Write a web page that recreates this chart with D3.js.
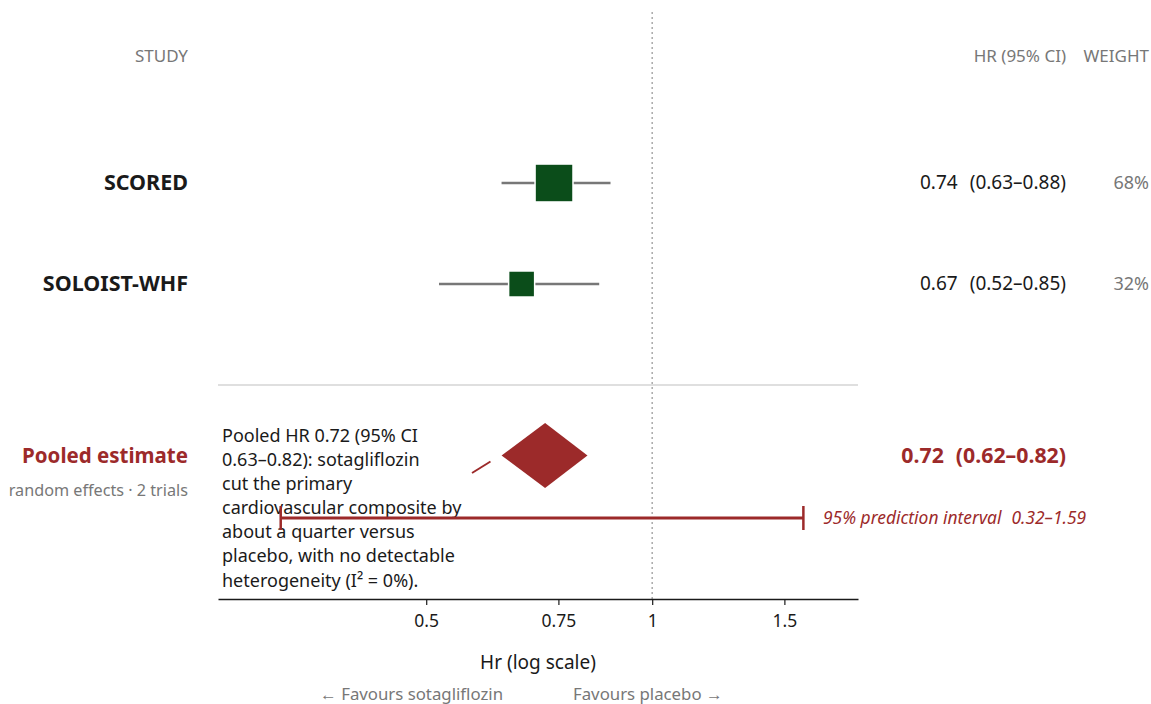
<!DOCTYPE html>
<html><head><meta charset="utf-8">
<script src="https://cdn.jsdelivr.net/npm/d3@7"></script>
<style>
body{margin:0;background:#fff;}
svg{display:block;font-family:"Noto Sans","Open Sans",sans-serif;}
</style></head>
<body><svg id="c" width="1151" height="704"></svg>
<script>
const studies = ["SCORED", "SOLOIST-WHF"];
const hr = [0.74, 0.67];
const lo = [0.63, 0.52];
const hi = [0.88, 0.85];
const weights = [68, 32];
// diamond as drawn, and the pooled estimate as printed in the right column
const pooledDiamond = [0.63, 0.72, 0.82];
const pooledLabel = [0.72, 0.62, 0.82];
const predInterval = [0.32, 1.59];
const tickValues = [0.5, 0.75, 1, 1.5];
const noteLines = ["Pooled HR 0.72 (95% CI", "0.63–0.82): sotagliflozin", "cut the primary", "cardiovascular composite by", "about a quarter versus", "placebo, with no detectable", "heterogeneity (I² = 0%)."];

const svg = d3.select("#c");
const green = "#0b4d1a", red = "#9c2a2a", grey = "#777", ink = "#1a1a1a";
const x = d3.scaleLog().domain([0.264, 1.88]).range([218, 858]);
const rowY = d3.scalePoint().domain(studies).range([183, 284]);
const size = d3.scaleSqrt().domain([0, 100]).range([0, 46]);

// reference line at 1
svg.append("line").attr("x1", x(1)).attr("x2", x(1)).attr("y1", 12).attr("y2", 599)
  .attr("stroke", "#aaa").attr("stroke-width", 1.5).attr("stroke-dasharray", "2,3");

// headers
svg.append("text").attr("x", 188).attr("y", 62).attr("text-anchor", "end").attr("fill", grey).attr("font-size", 17).text("STUDY");
svg.append("text").attr("x", 1066).attr("y", 62).attr("text-anchor", "end").attr("fill", grey).attr("font-size", 17).text("HR (95% CI)");
svg.append("text").attr("x", 1149).attr("y", 62).attr("text-anchor", "end").attr("fill", grey).attr("font-size", 17).text("WEIGHT");

const fmt = d3.format(".2f");
function hrText(y, vals, fs, weight, fill, gap) {
  const t = svg.append("text").attr("x", 1066).attr("y", y).attr("text-anchor", "end")
    .attr("font-size", fs).attr("font-weight", weight).attr("fill", fill);
  t.append("tspan").text(fmt(vals[0]));
  t.append("tspan").attr("dx", gap).text(`(${fmt(vals[1])}–${fmt(vals[2])})`);
}
studies.forEach((s, i) => {
  const y = rowY(s);
  svg.append("text").attr("x", 188).attr("y", y + 7).attr("text-anchor", "end")
    .attr("font-size", 21.5).attr("font-weight", 700).attr("fill", ink).text(s);
  svg.append("line").attr("x1", x(lo[i])).attr("x2", x(hi[i])).attr("y1", y).attr("y2", y)
    .attr("stroke", grey).attr("stroke-width", 2.5);
  const w = size(weights[i]);
  svg.append("rect").attr("x", x(hr[i]) - w / 2).attr("y", y - w / 2).attr("width", w).attr("height", w)
    .attr("fill", green).attr("stroke", "#fff").attr("stroke-width", 1.5);
  hrText(y + 6, [hr[i], lo[i], hi[i]], 19, 400, ink, 12);
  svg.append("text").attr("x", 1149).attr("y", y + 6).attr("text-anchor", "end")
    .attr("font-size", 18).attr("fill", grey).text(weights[i] + "%");
});

// separator
svg.append("line").attr("x1", 218).attr("x2", 858).attr("y1", 385).attr("y2", 385)
  .attr("stroke", "#d4d4d4").attr("stroke-width", 1.5);

// pooled
const py = 455.5;
svg.append("text").attr("x", 188).attr("y", py + 7).attr("text-anchor", "end")
  .attr("font-size", 20.5).attr("font-weight", 700).attr("fill", red).text("Pooled estimate");
svg.append("text").attr("x", 188).attr("y", 496).attr("text-anchor", "end")
  .attr("font-size", 16.2).attr("fill", grey).text("random effects · 2 trials");

// annotation text
const note = svg.append("text").attr("x", 222).attr("y", 442).attr("font-size", 18).attr("fill", ink);
noteLines.forEach((l, i) => note.append("tspan").attr("x", 222).attr("dy", i === 0 ? 0 : (i === 6 ? 25 : 24)).text(l));

svg.append("path")
  .attr("d", `M${x(pooledDiamond[0])},${py} L${x(pooledDiamond[1])},${py - 32.5} L${x(pooledDiamond[2])},${py} L${x(pooledDiamond[1])},${py + 32.5} Z`)
  .attr("fill", red);
svg.append("line").attr("x1", 472).attr("y1", 473).attr("x2", 490.5).attr("y2", 461.5)
  .attr("stroke", red).attr("stroke-width", 2);
hrText(py + 7, pooledLabel, 21.3, 700, red, 12);

// prediction interval
const piy = 518;
svg.append("line").attr("x1", x(predInterval[0])).attr("x2", x(predInterval[1])).attr("y1", piy).attr("y2", piy)
  .attr("stroke", red).attr("stroke-width", 3);
predInterval.forEach(v => svg.append("line").attr("x1", x(v)).attr("x2", x(v)).attr("y1", piy - 12).attr("y2", piy + 12)
  .attr("stroke", red).attr("stroke-width", 2.5));
const pt = svg.append("text").attr("x", 823).attr("y", piy + 6).attr("font-size", 17.4).attr("font-style", "italic")
  .attr("fill", red);
pt.append("tspan").text("95% prediction interval");
pt.append("tspan").attr("dx", 10).text(`${fmt(predInterval[0])}–${fmt(predInterval[1])}`);

// axis
const axis = svg.append("g").attr("transform", "translate(0,599)")
  .call(d3.axisBottom(x).tickValues(tickValues).tickFormat(d => String(d)).tickSize(6).tickSizeOuter(0));
axis.attr("font-size", null).attr("font-family", null);
axis.select(".domain").attr("stroke", ink).attr("stroke-width", 1.5);
axis.selectAll(".tick line").attr("stroke", ink).attr("stroke-width", 1.2);
axis.selectAll(".tick text").attr("font-size", 17.5).attr("fill", ink).attr("y", 10).attr("dy", "1em");

svg.append("text").attr("x", 538).attr("y", 669).attr("text-anchor", "middle").attr("font-size", 19)
  .attr("fill", ink).text("Hr (log scale)");
svg.append("text").attr("x", 503).attr("y", 700).attr("text-anchor", "end").attr("font-size", 16.8)
  .attr("fill", grey).text("← Favours sotagliflozin");
svg.append("text").attr("x", 573).attr("y", 700).attr("text-anchor", "start").attr("font-size", 16.8)
  .attr("fill", grey).text("Favours placebo →");
</script></body></html>
